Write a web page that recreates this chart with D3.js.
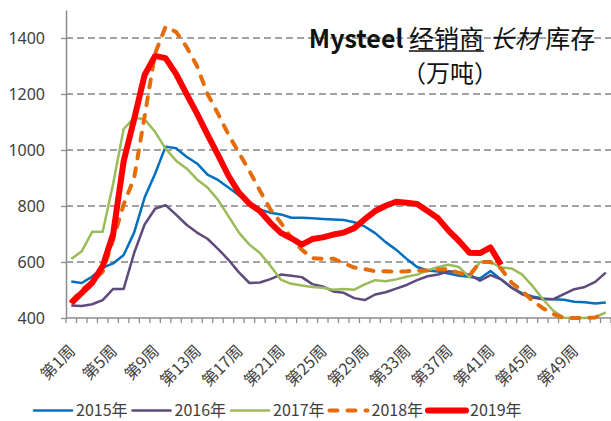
<!DOCTYPE html>
<html>
<head>
<meta charset="utf-8">
<script src="https://cdn.jsdelivr.net/npm/d3@7"></script>
<style>
  body { margin: 0; background: #fff; }
  svg { display: block; font-family: "Noto Sans CJK SC", "Noto Sans", sans-serif; }
</style>
</head>
<body>
<svg width="611" height="421"></svg>
<script>
var weeks = d3.range(1, 53).map(function(n) { return "第" + n + "周"; });
var labelWeeks = [1, 5, 9, 13, 17, 21, 25, 29, 33, 37, 41, 45, 49];
var yTicks = [400, 600, 800, 1000, 1200, 1400];

var s2015 = [530, 525, 548, 580, 595, 625, 705, 830, 915, 1012, 1006, 976, 952, 912, 893, 866, 838, 808, 788, 776,
             770, 758, 758, 756, 754, 752, 750, 742, 727, 703, 671, 644, 611, 582, 570, 566, 559, 551, 547, 541,
             568, 538, 509, 489, 477, 470, 467, 465, 458, 456, 452, 455];
var s2016 = [445, 443, 449, 464, 504, 504, 632, 734, 790, 803, 769, 733, 705, 683, 647, 608, 563, 525, 527, 539,
             555, 551, 546, 521, 513, 495, 490, 471, 464, 484, 492, 505, 518, 535, 549, 555, 567, 563, 555, 533,
             553, 538, 509, 485, 473, 467, 467, 485, 503, 511, 529, 562];
var s2017 = [611, 638, 708, 708, 880, 1075, 1115, 1110, 1065, 1005, 962, 934, 895, 866, 822, 764, 705, 662, 632, 587,
             537, 522, 516, 511, 508, 501, 504, 501, 520, 535, 531, 538, 547, 555, 570, 582, 590, 582, 545, 600,
             600, 580, 577, 556, 515, 467, 426, 401, 400, 400, 402, 420];
var s2018 = [460, 500, 530, 565, 680, 805, 900, 1120, 1345, 1440, 1422, 1368, 1300, 1200, 1130, 1055, 990, 925, 855, 788,
             740, 686, 644, 614, 611, 612, 596, 580, 575, 567, 567, 566, 567, 569, 570, 573, 575, 560, 552, 600,
             600, 577, 527, 497, 462, 435, 414, 400, 400, 400, 402, 420];
var s2019 = [453, 490, 526, 585, 700, 960, 1110, 1268, 1336, 1328, 1272, 1200, 1130, 1055, 983, 908, 848, 808, 782, 740,
             704, 685, 662, 682, 688, 698, 705, 721, 753, 782, 801, 815, 812, 807, 782, 756, 712, 675, 633, 632,
             652, 590];

var series = [
  {name: "2015年", values: s2015, color: "#0070C0", width: 2.5, dash: null},
  {name: "2016年", values: s2016, color: "#604A7B", width: 2.5, dash: null},
  {name: "2017年", values: s2017, color: "#9BBB59", width: 2.5, dash: null},
  {name: "2018年", values: s2018, color: "#E46C0A", width: 4, dash: "8,10"},
  {name: "2019年", values: s2019, color: "#FF0000", width: 6, dash: null}
];

var svg = d3.select("svg");
var margin = {left: 66, right: 611, top: 10, bottom: 318};

var x = d3.scaleBand()
    .domain(weeks)
    .range([margin.left, margin.right])
    .padding(0);

var y = d3.scaleLinear()
    .domain([400, 1500])
    .range([margin.bottom, margin.top]);

var cx = function(i) { return x(weeks[i]) + x.bandwidth() / 2; };

// grid
svg.append("g")
    .attr("class", "grid")
  .selectAll("line")
  .data(yTicks.filter(function(d) { return d > 400; }))
  .enter().append("line")
    .attr("x1", margin.left)
    .attr("x2", margin.right)
    .attr("y1", function(d) { return y(d); })
    .attr("y2", function(d) { return y(d); })
    .style("stroke", "#858585")
    .style("stroke-width", 1.3)
    .style("stroke-dasharray", "7,4");

// y axis
var yAxis = svg.append("g")
    .attr("transform", "translate(" + margin.left + ",0)")
    .call(d3.axisLeft(y).tickValues(yTicks).tickFormat(d3.format("d")).tickSize(5).tickPadding(16).tickSizeOuter(0));
yAxis.select(".domain").style("stroke", "#8c8c8c").style("stroke-width", 1.5);
yAxis.selectAll(".tick line").style("stroke", "#8c8c8c").style("stroke-width", 1.3);
yAxis.selectAll("text")
    .style("font-size", "16px")
    .style("fill", "#404040")
    .style("font-family", "'Noto Sans', sans-serif");

// x axis
var xAxis = svg.append("g");
xAxis.append("line")
    .attr("x1", margin.left)
    .attr("x2", margin.right)
    .attr("y1", y(400))
    .attr("y2", y(400))
    .style("stroke", "#8c8c8c")
    .style("stroke-width", 1.5);
xAxis.selectAll(".xtick")
    .data(weeks.concat([null]))
  .enter().append("line")
    .attr("class", "xtick")
    .attr("x1", function(d) { return d === null ? margin.right : x(d); })
    .attr("x2", function(d) { return d === null ? margin.right : x(d); })
    .attr("y1", y(400))
    .attr("y2", y(400) + 5)
    .style("stroke", "#8c8c8c")
    .style("stroke-width", 1.3);
xAxis.selectAll(".xlabel")
    .data(labelWeeks)
  .enter().append("text")
    .attr("class", "xlabel")
    .attr("transform", function(d) { return "translate(" + (cx(d - 1) + 5) + "," + (y(400) + 34) + ") rotate(-45)"; })
    .style("text-anchor", "end")
    .style("font-size", "16px")
    .style("fill", "#404040")
    .text(function(d) { return weeks[d - 1]; });

// lines
var line = d3.line()
    .x(function(d, i) { return cx(i); })
    .y(function(d) { return y(d); });

svg.append("g")
    .attr("class", "lines")
  .selectAll("path")
  .data(series)
  .enter().append("path")
    .attr("d", function(d) { return line(d.values); })
    .style("fill", "none")
    .style("stroke", function(d) { return d.color; })
    .style("stroke-width", function(d) { return d.width; })
    .style("stroke-dasharray", function(d) { return d.dash; })
    .style("stroke-linejoin", "round")
    .style("stroke-linecap", function(d) { return d.dash ? "round" : "butt"; });

// title
var titleParts = [
  {t: "Mysteel", weight: "bold", style: "normal", under: false},
  {t: " ", weight: "normal", style: "normal", under: false},
  {t: "经销商", weight: "normal", style: "normal", under: true},
  {t: " ", weight: "normal", style: "normal", under: false},
  {t: "长材", weight: "normal", style: "italic", under: false},
  {t: " ", weight: "normal", style: "normal", under: false},
  {t: "库存", weight: "normal", style: "normal", under: false}
];
var title = svg.append("g").attr("class", "title");
var titleX = 452, titleY = 48;
var pieces = titleParts.map(function(p) {
  var el = title.append("text")
      .attr("y", titleY)
      .style("font-size", "25px")
      .style("font-weight", p.weight)
      .style("font-style", p.style)
      .style("fill", "#111")
      .style("white-space", "pre")
      .text(p.t);
  return {el: el, w: el.node().getComputedTextLength(), p: p};
});
var total = d3.sum(pieces, function(d) { return d.w; });
var cur = titleX - total / 2;
pieces.forEach(function(d) {
  d.el.attr("x", cur);
  if (d.p.under) {
    title.append("line")
        .attr("x1", cur).attr("x2", cur + d.w)
        .attr("y1", titleY + 3).attr("y2", titleY + 3)
        .style("stroke", "#111").style("stroke-width", 1.3);
  }
  cur += d.w;
});
title.append("text")
    .attr("x", titleX - 2)
    .attr("y", titleY + 34)
    .style("text-anchor", "middle")
    .style("font-size", "24px")
    .style("fill", "#111")
    .text("（万吨）");

// legend
var legend = svg.append("g").attr("class", "legend");
var lx = 33, ly = 410.5, pitch = 98.5;
series.forEach(function(s, i) {
  var sx = lx + i * pitch;
  legend.append("line")
      .attr("x1", sx + 1).attr("x2", sx + 39)
      .attr("y1", ly).attr("y2", ly)
      .style("stroke", s.color)
      .style("stroke-width", s.width)
      .style("stroke-dasharray", s.dash)
      .style("stroke-linecap", "round");
  legend.append("text")
      .attr("x", sx + 43)
      .attr("y", ly)
      .attr("dy", "0.35em")
      .style("font-size", "16px")
      .style("fill", "#404040")
      .text(s.name);
});
</script>
</body>
</html>
